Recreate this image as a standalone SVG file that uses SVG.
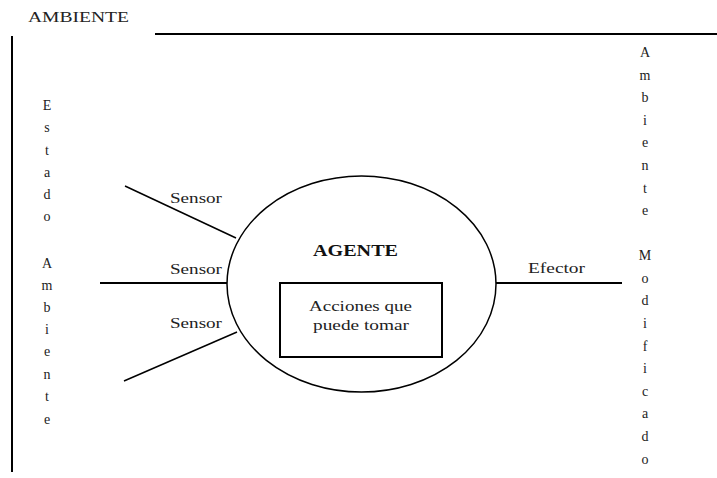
<svg xmlns="http://www.w3.org/2000/svg" width="717" height="478" viewBox="0 0 717 478">
<style>
.t{font-family:"Liberation Serif","DejaVu Serif",serif;font-size:14px;fill:#222}
.v{font-family:"Liberation Serif","DejaVu Serif",serif;font-size:14px;fill:#222;text-anchor:middle}
.ln{stroke:#000;stroke-width:2;fill:none}
.th{stroke:#000;stroke-width:1.5;fill:none}
</style>
<rect width="717" height="478" fill="#fff"/>
<g id="ambiente-frame">
<text class="t" x="28" y="22" textLength="101" lengthAdjust="spacingAndGlyphs">AMBIENTE</text>
<line class="ln" x1="155" y1="34" x2="717" y2="34"/>
<line class="ln" x1="12" y1="36" x2="12" y2="472"/>
</g>
<g id="estado-ambiente">
<text class="v" x="47" y="110">E</text>
<text class="v" x="47" y="132">s</text>
<text class="v" x="47" y="155">t</text>
<text class="v" x="47" y="177">a</text>
<text class="v" x="47" y="199">d</text>
<text class="v" x="47" y="221">o</text>
<text class="v" x="47" y="268">A</text>
<text class="v" x="47" y="290">m</text>
<text class="v" x="47" y="312">b</text>
<text class="v" x="47" y="334">i</text>
<text class="v" x="47" y="356">e</text>
<text class="v" x="47" y="379">n</text>
<text class="v" x="47" y="401">t</text>
<text class="v" x="47" y="424">e</text>
</g>
<g id="ambiente-modificado">
<text class="v" x="645" y="57">A</text>
<text class="v" x="645" y="80">m</text>
<text class="v" x="645" y="102">b</text>
<text class="v" x="645" y="125">i</text>
<text class="v" x="645" y="147">e</text>
<text class="v" x="645" y="170">n</text>
<text class="v" x="645" y="193">t</text>
<text class="v" x="645" y="215">e</text>
<text class="v" x="645" y="260">M</text>
<text class="v" x="645" y="283">o</text>
<text class="v" x="645" y="305">d</text>
<text class="v" x="645" y="328">i</text>
<text class="v" x="645" y="351">f</text>
<text class="v" x="645" y="373">i</text>
<text class="v" x="645" y="396">c</text>
<text class="v" x="645" y="418">a</text>
<text class="v" x="645" y="441">d</text>
<text class="v" x="645" y="464">o</text>
</g>
<g id="connectors">
<line class="th" x1="125" y1="186" x2="236" y2="238"/>
<line class="ln" x1="100" y1="283" x2="227" y2="283"/>
<line class="th" x1="124" y1="381" x2="237" y2="332"/>
<line class="ln" x1="496" y1="283" x2="622" y2="283"/>
<text class="t" x="170" y="203" textLength="52" lengthAdjust="spacingAndGlyphs">Sensor</text>
<text class="t" x="170" y="274" textLength="52" lengthAdjust="spacingAndGlyphs">Sensor</text>
<text class="t" x="170" y="328" textLength="52" lengthAdjust="spacingAndGlyphs">Sensor</text>
<text class="t" x="528" y="273" textLength="57" lengthAdjust="spacingAndGlyphs">Efector</text>
</g>
<g id="agente">
<ellipse class="th" cx="361.5" cy="284" rx="134.5" ry="108"/>
<text x="313" y="256" font-family="Liberation Serif, DejaVu Serif, serif" font-size="17" font-weight="bold" fill="#111" textLength="85" lengthAdjust="spacingAndGlyphs">AGENTE</text>
</g>
<g id="acciones">
<rect class="ln" x="280" y="283" width="162" height="74"/>
<text class="t" x="309" y="311" textLength="103" lengthAdjust="spacingAndGlyphs">Acciones que</text>
<text class="t" x="313" y="330" textLength="96" lengthAdjust="spacingAndGlyphs">puede tomar</text>
</g>
</svg>
